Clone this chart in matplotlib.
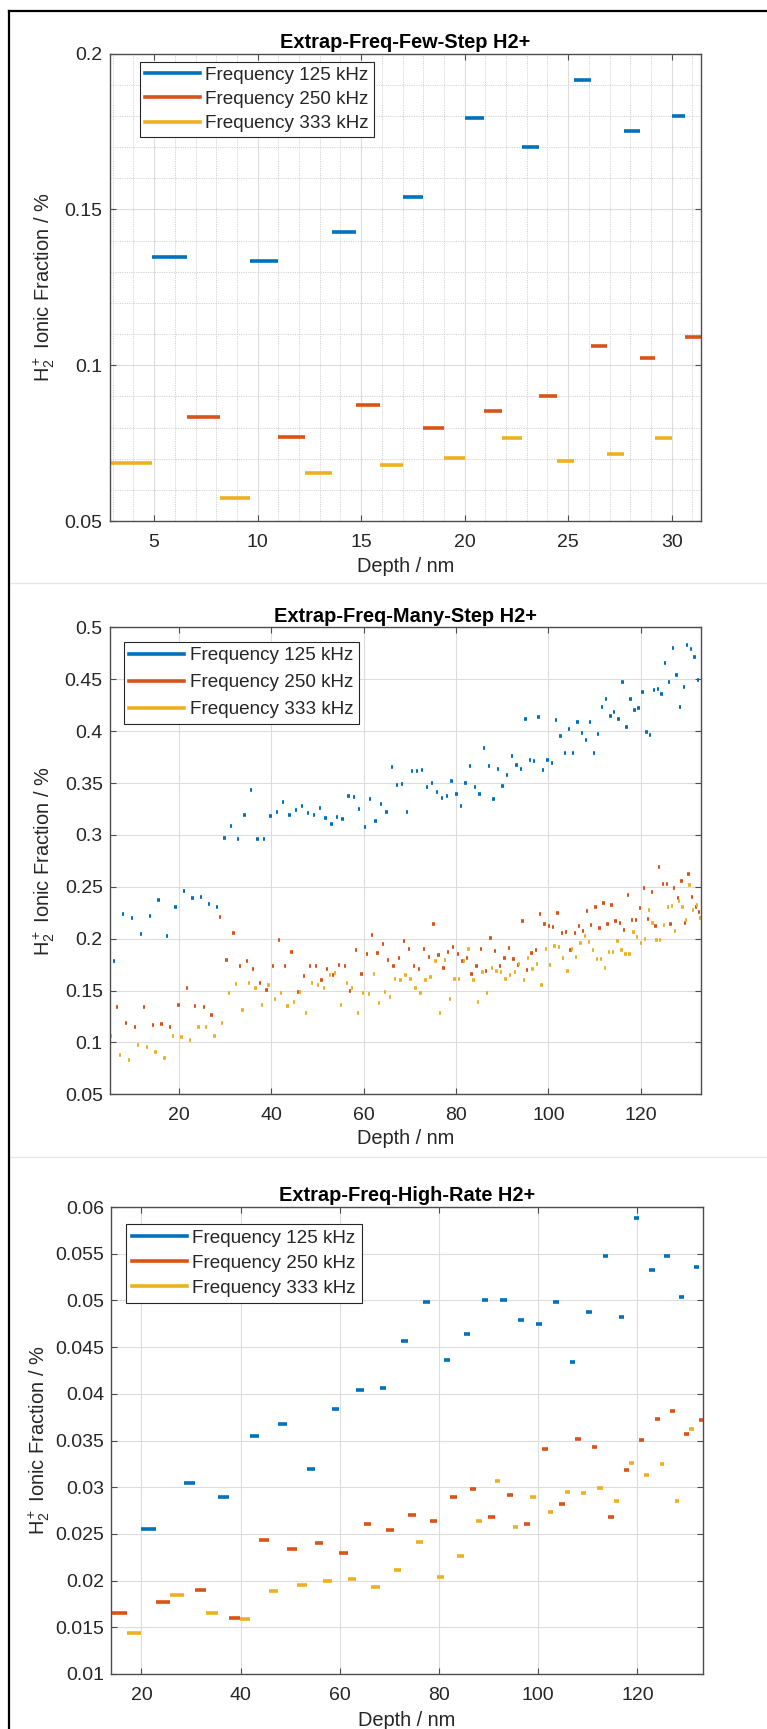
import matplotlib
matplotlib.use('Agg')
import matplotlib.pyplot as plt
from matplotlib.lines import Line2D

# ---------------- data ----------------
legend_labels = ['Frequency 125 kHz', 'Frequency 250 kHz', 'Frequency 333 kHz']
titles = ['Extrap-Freq-Few-Step H2+', 'Extrap-Freq-Many-Step H2+', 'Extrap-Freq-High-Rate H2+']

# Panel 1: few-step (segments: start, end, value)
few_125_start = [4.9, 9.62, 13.6, 17.0, 20.0, 22.77, 25.3, 27.7, 30.0]
few_125_end = [6.57, 10.97, 14.77, 18.0, 20.92, 23.6, 26.1, 28.45, 30.67]
few_125_val = [0.1346, 0.1334, 0.1429, 0.1540, 0.1792, 0.1699, 0.1914, 0.1752, 0.1800]
few_250_start = [6.57, 10.97, 14.77, 18.0, 20.92, 23.6, 26.1, 28.45, 30.67]
few_250_end = [8.18, 12.3, 15.9, 19.0, 21.82, 24.47, 26.9, 29.2, 31.42]
few_250_val = [0.0834, 0.0770, 0.0873, 0.0798, 0.0852, 0.0901, 0.1061, 0.1024, 0.1092]
few_333_start = [2.85, 8.18, 12.3, 15.9, 19.0, 21.82, 24.47, 26.9, 29.2]
few_333_end = [4.9, 9.62, 13.6, 17.0, 20.0, 22.77, 25.3, 27.7, 30.0]
few_333_val = [0.0685, 0.0575, 0.0654, 0.0679, 0.0701, 0.0766, 0.0691, 0.0714, 0.0765]
few_xlim = [2.85, 31.42]
few_ylim = [0.05, 0.2]
few_xticks = [5, 10, 15, 20, 25, 30]
few_yticks = [0.05, 0.1, 0.15, 0.2]

# Panel 2: many-step (segment centres, value)
many_125_depth = [5.98, 7.93, 9.88, 11.76, 13.71, 15.59, 17.46, 19.27, 21.15, 22.95, 24.83, 26.56, 28.3,
                  29.89, 31.26, 32.78, 34.22, 35.6, 37.04, 38.49, 39.86, 41.23, 42.6, 43.97, 45.35, 46.72,
                  47.95, 49.25, 50.55, 51.77, 53.07, 54.3, 55.46, 56.72, 57.91, 59.07, 60.3, 61.45, 62.6,
                  63.76, 64.92, 66.07, 67.16, 68.31, 69.4, 70.48, 71.56, 72.65, 73.73, 74.81, 75.9, 76.91,
                  77.99, 79.0, 80.08, 81.02, 82.04, 83.05, 84.05, 85.07, 86.08, 87.09, 88.1, 89.12, 90.06,
                  91.07, 92.08, 93.09, 94.03, 95.04, 95.98, 96.92, 97.86, 98.8, 99.81, 100.75, 101.69,
                  102.63, 103.57, 104.51, 105.37, 106.31, 107.25, 108.12, 108.98, 109.92, 110.79, 111.65,
                  112.52, 113.39, 114.25, 115.12, 115.99, 116.86, 117.73, 118.59, 119.46, 120.33, 121.2,
                  121.99, 122.86, 123.65, 124.45, 125.24, 126.11, 126.9, 127.7, 128.49, 129.29, 130.01,
                  130.8, 131.6, 132.39, 133.19]
many_125_val = [0.1789, 0.2236, 0.2203, 0.2043, 0.2220, 0.2377, 0.2030, 0.2303, 0.2460, 0.2396, 0.2402,
                0.2332, 0.2303, 0.2974, 0.3087, 0.2961, 0.3189, 0.3434, 0.2961, 0.2961, 0.3180, 0.3222,
                0.3318, 0.3196, 0.3240, 0.3279, 0.3215, 0.3193, 0.3263, 0.3167, 0.3106, 0.3177, 0.3157,
                0.3376, 0.3366, 0.3254, 0.3080, 0.3347, 0.3132, 0.3299, 0.3225, 0.3658, 0.3485, 0.3495,
                0.3225, 0.3620, 0.3620, 0.3630, 0.3466, 0.3504, 0.3411, 0.3353, 0.3372, 0.3523, 0.3395,
                0.3283, 0.3498, 0.3665, 0.3466, 0.3398, 0.3838, 0.3665, 0.3344, 0.3640, 0.3472, 0.3578,
                0.3761, 0.3674, 0.3640, 0.4121, 0.3719, 0.3716, 0.4140, 0.3626, 0.3726, 0.3690, 0.4108,
                0.3954, 0.3787, 0.4024, 0.3787, 0.4089, 0.3980, 0.3915, 0.4086, 0.3787, 0.3976, 0.4236,
                0.4313, 0.4146, 0.4182, 0.4114, 0.4471, 0.4044, 0.4310, 0.4204, 0.4223, 0.4378, 0.3992,
                0.3960, 0.4397, 0.4407, 0.4355, 0.4660, 0.4477, 0.4805, 0.4545, 0.4236, 0.4430, 0.4830,
                0.4792, 0.4718, 0.4493, 0.4846]
many_250_depth = [6.63, 8.58, 10.47, 12.41, 14.43, 16.24, 18.04, 19.92, 21.73, 23.53, 25.4, 27.1, 28.88,
                  30.33, 31.84, 33.28, 34.73, 36.1, 37.54, 38.99, 40.36, 41.67, 43.04, 44.41, 45.78, 47.08,
                  48.38, 49.68, 50.91, 52.14, 53.44, 54.74, 55.9, 57.1, 58.35, 59.51, 60.66, 61.82, 62.97,
                  64.13, 65.28, 66.44, 67.6, 68.68, 69.77, 70.85, 71.93, 73.02, 74.1, 75.11, 76.19, 77.27,
                  78.28, 79.3, 80.38, 81.39, 82.4, 83.34, 84.42, 85.43, 86.45, 87.46, 88.47, 89.48, 90.49,
                  91.43, 92.44, 93.38, 94.39, 95.4, 96.34, 97.28, 98.22, 99.16, 100.1, 101.04, 101.98,
                  102.92, 103.85, 104.79, 105.73, 106.67, 107.54, 108.4, 109.26, 110.2, 111.07, 111.93,
                  112.8, 113.67, 114.53, 115.47, 116.34, 117.2, 118.0, 118.87, 119.74, 120.6, 121.47,
                  122.33, 123.13, 123.92, 124.79, 125.58, 126.38, 127.17, 127.97, 128.76, 129.48, 130.28,
                  131.0, 131.87, 132.59]
many_250_val = [0.134, 0.119, 0.115, 0.134, 0.117, 0.118, 0.115, 0.136, 0.152, 0.135, 0.134, 0.126, 0.221,
                0.179, 0.2059, 0.1732, 0.1789, 0.1709, 0.1571, 0.1507, 0.1738, 0.1988, 0.1732, 0.1869,
                0.149, 0.1642, 0.1732, 0.1732, 0.1597, 0.1709, 0.1648, 0.1744, 0.1738, 0.150, 0.1892,
                0.1661, 0.1854, 0.2037, 0.1866, 0.1950, 0.1799, 0.1738, 0.1809, 0.1982, 0.1905, 0.1738,
                0.1712, 0.1902, 0.1828, 0.2146, 0.1844, 0.1722, 0.1873, 0.1921, 0.1854, 0.1780, 0.1815,
                0.1661, 0.1738, 0.1902, 0.1686, 0.2005, 0.1880, 0.1738, 0.1815, 0.1908, 0.1802, 0.1744,
                0.2172, 0.1700, 0.1866, 0.1892, 0.2236, 0.2146, 0.2123, 0.2110, 0.2245, 0.2053, 0.2066,
                0.1892, 0.2050, 0.2125, 0.2075, 0.2265, 0.2130, 0.2310, 0.2098, 0.2342, 0.2143, 0.2326,
                0.2172, 0.2155, 0.2085, 0.2419, 0.2178, 0.2178, 0.2300, 0.2490, 0.2194, 0.2451, 0.2123,
                0.2695, 0.2528, 0.2525, 0.2146, 0.2493, 0.2390, 0.2554, 0.2155, 0.2624, 0.2406, 0.2310,
                0.2258]
many_333_depth = [5.27, 7.24, 9.23, 11.11, 13.06, 14.94, 16.89, 18.69, 20.57, 22.38, 24.25, 25.91, 27.72,
                  29.38, 30.83, 32.35, 33.8, 35.16, 36.6, 38.05, 39.42, 40.86, 42.17, 43.54, 44.91, 46.21,
                  47.51, 48.82, 50.12, 51.35, 52.65, 53.87, 55.03, 56.33, 57.48, 58.71, 59.86, 61.09,
                  62.24, 63.4, 64.56, 65.64, 66.8, 67.95, 69.04, 70.12, 71.2, 72.29, 73.37, 74.45, 75.54,
                  76.55, 77.56, 78.64, 79.66, 80.67, 81.68, 82.7, 83.77, 84.78, 85.72, 86.74, 87.82, 88.76,
                  89.7, 90.71, 91.72, 92.73, 93.67, 94.68, 95.62, 96.56, 97.5, 98.5, 99.44, 100.39,
                  101.33, 102.27, 103.2, 104.14, 105.08, 106.02, 106.96, 107.83, 108.7, 109.63, 110.5,
                  111.36, 112.23, 113.1, 113.97, 114.91, 115.77, 116.64, 117.51, 118.38, 119.17, 120.04,
                  120.83, 121.7, 122.5, 123.36, 124.16, 125.02, 125.89, 126.68, 127.4, 128.2, 128.99,
                  129.71, 130.51, 131.3, 132.1, 132.9]
many_333_val = [0.1061, 0.0877, 0.0832, 0.0977, 0.0954, 0.0903, 0.0848, 0.1061, 0.1054, 0.1019, 0.1147,
                0.1147, 0.1061, 0.1192, 0.1475, 0.1561, 0.1314, 0.1570, 0.1523, 0.1362, 0.1549, 0.1417,
                0.1481, 0.1353, 0.1394, 0.1490, 0.1280, 0.1577, 0.1555, 0.1523, 0.1648, 0.1667, 0.1362,
                0.1570, 0.1520, 0.1288, 0.1475, 0.1462, 0.1661, 0.1378, 0.1490, 0.1436, 0.1613, 0.1597,
                0.1648, 0.1613, 0.1526, 0.1481, 0.1600, 0.1635, 0.1780, 0.1282, 0.1796, 0.1423, 0.1616,
                0.1616, 0.1780, 0.1902, 0.1597, 0.1391, 0.1674, 0.1481, 0.1722, 0.1693, 0.1683, 0.1610,
                0.1648, 0.1683, 0.1757, 0.1597, 0.1812, 0.1706, 0.1757, 0.1558, 0.1902, 0.1744, 0.1934,
                0.1915, 0.1818, 0.1693, 0.1905, 0.1825, 0.1963, 0.2021, 0.1968, 0.1892, 0.1802, 0.1802,
                0.1722, 0.1873, 0.1876, 0.1979, 0.1889, 0.1854, 0.1854, 0.2069, 0.2014, 0.1963, 0.1995,
                0.2281, 0.2155, 0.1988, 0.1988, 0.2130, 0.2310, 0.2316, 0.2078, 0.2361, 0.2303, 0.2184,
                0.2515, 0.2281, 0.2326, 0.2197]
many_xlim = [5.05, 133.07]
many_ylim = [0.05, 0.5]
many_xticks = [20, 40, 60, 80, 100, 120]
many_yticks = [0.05, 0.1, 0.15, 0.2, 0.25, 0.3, 0.35, 0.4, 0.45, 0.5]

# Panel 3: high-rate (segments: start, end, value)
hr_125_start = [20.0, 28.5, 35.5, 41.8, 47.6, 53.3, 58.4, 63.3, 68.0, 72.4, 76.8, 80.9, 85.0, 88.7, 92.3,
                96.0, 99.6, 103.0, 106.4, 109.7, 113.0, 116.3, 119.3, 122.4, 125.4, 128.4, 131.4]
hr_125_end = [22.9, 30.8, 37.6, 43.7, 49.4, 55.0, 59.9, 64.8, 69.4, 73.8, 78.1, 82.2, 86.2, 89.9, 93.6,
              97.2, 100.8, 104.2, 107.5, 110.9, 114.1, 117.3, 120.4, 123.5, 126.5, 129.4, 132.4]
hr_125_val = [0.02553, 0.03047, 0.02897, 0.03545, 0.03676, 0.03194, 0.03834, 0.0404, 0.0406, 0.04561,
              0.04988, 0.04364, 0.0464, 0.0500, 0.0500, 0.0479, 0.04743, 0.0498, 0.04344, 0.04877,
              0.05478, 0.04818, 0.05881, 0.05328, 0.05478, 0.05032, 0.0536]
hr_250_start = [13.9, 22.9, 30.8, 37.6, 43.7, 49.4, 55.0, 59.9, 64.8, 69.4, 73.8, 78.1, 82.2, 86.2, 89.9,
                93.6, 97.2, 100.8, 104.2, 107.5, 110.9, 114.1, 117.3, 120.4, 123.5, 126.5, 129.4, 132.4]
hr_250_end = [17.1, 25.7, 33.1, 39.9, 45.8, 51.3, 56.6, 61.6, 66.3, 70.9, 75.3, 79.5, 83.6, 87.5, 91.2,
              94.9, 98.4, 101.9, 105.3, 108.7, 111.9, 115.2, 118.3, 121.4, 124.5, 127.5, 130.4, 133.2]
hr_250_val = [0.01648, 0.01775, 0.01897, 0.01597, 0.02431, 0.0234, 0.02403, 0.02292, 0.02605, 0.02545,
              0.02704, 0.02636, 0.02897, 0.02984, 0.02684, 0.02913, 0.02609, 0.03407, 0.02822, 0.03518,
              0.03435, 0.0268, 0.03182, 0.03502, 0.03727, 0.03814, 0.03565, 0.03715]
hr_333_start = [17.1, 25.7, 33.1, 39.9, 45.8, 51.3, 56.6, 61.6, 66.3, 70.9, 75.3, 79.5, 83.6, 87.5, 91.2,
                94.9, 98.4, 101.9, 105.3, 108.7, 111.9, 115.2, 118.3, 121.4, 124.5, 127.5, 130.4]
hr_333_end = [20.0, 28.5, 35.5, 41.8, 47.6, 53.3, 58.4, 63.3, 68.0, 72.4, 76.8, 80.9, 85.0, 88.7, 92.3,
              96.0, 99.6, 103.0, 106.4, 109.7, 113.0, 116.3, 119.3, 122.4, 125.4, 128.4, 131.4]
hr_333_val = [0.01443, 0.01842, 0.01648, 0.01593, 0.01893, 0.01949, 0.01992, 0.0202, 0.01933, 0.02115,
              0.02415, 0.0204, 0.02261, 0.02636, 0.03067, 0.02569, 0.02897, 0.02731, 0.02949, 0.02937,
              0.02992, 0.02854, 0.03261, 0.0313, 0.03249, 0.02854, 0.03625]
hr_xlim = [13.87, 133.15]
hr_ylim = [0.01, 0.06]
hr_xticks = [20, 40, 60, 80, 100, 120]
hr_yticks = [0.01, 0.015, 0.02, 0.025, 0.03, 0.035, 0.04, 0.045, 0.05, 0.055, 0.06]

# ---------------- style ----------------
plt.rcParams['font.family'] = ['Liberation Sans', 'DejaVu Sans']
plt.rcParams['mathtext.fontset'] = 'custom'
plt.rcParams['mathtext.rm'] = 'Liberation Sans'
plt.rcParams['mathtext.it'] = 'Liberation Sans:italic'
plt.rcParams['mathtext.bf'] = 'Liberation Sans:bold'
plt.rcParams['mathtext.default'] = 'regular'

COLORS = ['#0072BD', '#D95319', '#EDB120']
AX_COLOR = '#262626'
SPINE_COLOR = '#4d4d4d'
GRID_COLOR = '#dcdcdc'
MINOR_GRID_COLOR = '#d2d2d2'
TICK_FS = 14
LABEL_FS = 14.4
LEG_FS = 13.6
SEG_LW = 2.6
MARK_LW = 2.6
MARK_HALF = 0.25

W, H = 767, 1729
fig = plt.figure(figsize=(W / 100, H / 100), dpi=100)
fig.patch.set_facecolor('white')


def px_axes(left, top, right, bottom):
    return fig.add_axes([left / W, 1 - bottom / H, (right - left) / W, (bottom - top) / H])


def style_axes(ax, xlim, ylim, xticks, yticks, title, leg_anchor, leg_spacing, leg_bpad, minor=False):
    ax.set_xlim(xlim)
    ax.set_ylim(ylim)
    ax.set_xticks(xticks)
    ax.set_yticks(yticks)
    ax.set_xticklabels([f'{v:g}' for v in xticks])
    ax.set_yticklabels([f'{v:g}' for v in yticks])
    ax.tick_params(which='major', direction='in', length=4.5, width=0.8, color=SPINE_COLOR,
                   top=True, right=True, labelsize=TICK_FS, labelcolor=AX_COLOR)
    ax.tick_params(axis='x', pad=9.5)
    ax.tick_params(axis='y', pad=5)
    for s in ax.spines.values():
        s.set_color(SPINE_COLOR)
        s.set_linewidth(1.0)
    ax.grid(True, which='major', color=GRID_COLOR, lw=0.8)
    if minor:
        ax.set_xticks([v for v in range(3, 32)], minor=True)
        ax.set_yticks([0.06, 0.07, 0.08, 0.09, 0.11, 0.12, 0.13, 0.14, 0.16, 0.17, 0.18, 0.19], minor=True)
        ax.tick_params(which='minor', length=0)
        ax.grid(True, which='minor', color=MINOR_GRID_COLOR, lw=0.7, ls=(0, (1.2, 1.2)))
    ax.set_axisbelow(True)
    ax.set_title(title, fontsize=LABEL_FS, fontweight='bold', pad=4, color='black')
    ax.set_xlabel('Depth / nm', fontsize=LABEL_FS, color=AX_COLOR)
    ax.set_ylabel('H$_2^+$ Ionic Fraction / %', fontsize=LABEL_FS, color=AX_COLOR)
    handles = [Line2D([], [], color=c, lw=SEG_LW) for c in COLORS]
    leg = ax.legend(handles, legend_labels, loc='upper left', bbox_to_anchor=leg_anchor,
                    borderaxespad=0, fontsize=LEG_FS, handlelength=2.9, handletextpad=0.3,
                    borderpad=leg_bpad, labelspacing=leg_spacing, frameon=True, fancybox=False,
                    edgecolor=AX_COLOR, framealpha=1)
    leg.get_frame().set_linewidth(0.8)
    for t in leg.get_texts():
        t.set_color(AX_COLOR)
    return ax


def place_labels(ax, ax_left, ax_bottom, ax_w, ax_h, xlabel_y, ylabel_x):
    ax.xaxis.set_label_coords(0.5, -(xlabel_y - ax_bottom) / ax_h)
    ax.xaxis.label.set_va('center')
    ax.yaxis.set_label_coords((ylabel_x - ax_left) / ax_w, 0.5)
    ax.yaxis.label.set_va('center')


def draw_segments(ax, starts, ends, vals, color, lw):
    lc = ax.hlines(vals, starts, ends, colors=color, linewidth=lw)
    lc.set_capstyle('butt')


# ---------------- panel 1 ----------------
ax1 = px_axes(109.6, 53.6, 701, 521)
draw_segments(ax1, few_125_start, few_125_end, few_125_val, COLORS[0], SEG_LW)
draw_segments(ax1, few_250_start, few_250_end, few_250_val, COLORS[1], SEG_LW)
draw_segments(ax1, few_333_start, few_333_end, few_333_val, COLORS[2], SEG_LW)
style_axes(ax1, few_xlim, few_ylim, few_xticks, few_yticks, titles[0],
           ((140 - 109.6) / 591.4, 1 - (61.7 - 53.6) / 467.4), 0.38, 0.25, minor=True)
place_labels(ax1, 109.6, 521, 591.4, 467.4, 566, 44.5)

# ---------------- panel 2 ----------------
ax2 = px_axes(109.7, 627.4, 701.3, 1094.3)
for dep, val, col in [(many_125_depth, many_125_val, COLORS[0]),
                      (many_250_depth, many_250_val, COLORS[1]),
                      (many_333_depth, many_333_val, COLORS[2])]:
    draw_segments(ax2, [d - MARK_HALF for d in dep], [d + MARK_HALF for d in dep], val, col, MARK_LW)
style_axes(ax2, many_xlim, many_ylim, many_xticks, many_yticks, titles[1],
           ((124 - 109.7) / 591.6, 1 - (641.7 - 627.4) / 466.9), 0.52, 0.28)
place_labels(ax2, 109.7, 1094.3, 591.6, 466.9, 1139, 44.5)

# ---------------- panel 3 ----------------
ax3 = px_axes(111, 1207, 702.7, 1674)
draw_segments(ax3, hr_125_start, hr_125_end, hr_125_val, COLORS[0], SEG_LW)
draw_segments(ax3, hr_250_start, hr_250_end, hr_250_val, COLORS[1], SEG_LW)
draw_segments(ax3, hr_333_start, hr_333_end, hr_333_val, COLORS[2], SEG_LW)
style_axes(ax3, hr_xlim, hr_ylim, hr_xticks, hr_yticks, titles[2],
           ((125.7 - 111) / 591.7, 1 - (1223.5 - 1207) / 467), 0.40, 0.33)
place_labels(ax3, 111, 1674, 591.7, 467, 1720, 39.5)

# ---------------- figure decorations ----------------
for yy in (583, 1157):
    fig.add_artist(Line2D([10 / W, 1], [1 - yy / H, 1 - yy / H], transform=fig.transFigure,
                          color='#e6e6e6', lw=0.9))
fig.add_artist(Line2D([9 / W, 9 / W], [0, 1 - 11 / H], transform=fig.transFigure, color='black', lw=1.6))
fig.add_artist(Line2D([9 / W, 1], [1 - 11 / H, 1 - 11 / H], transform=fig.transFigure, color='black', lw=1.6))

fig.savefig('out.png', dpi=100, facecolor='white')
